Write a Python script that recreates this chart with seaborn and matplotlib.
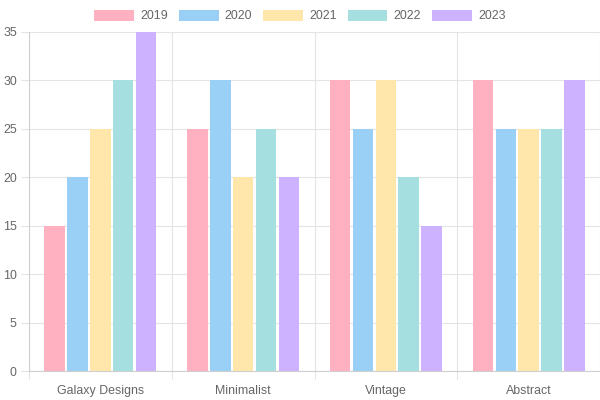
import matplotlib
matplotlib.use("Agg")
import matplotlib.pyplot as plt
import seaborn as sns
import pandas as pd
from matplotlib.patches import Patch

categories = ["Galaxy Designs", "Minimalist", "Vintage", "Abstract"]
years = ["2019", "2020", "2021", "2022", "2023"]
v2019 = [15, 25, 30, 30]
v2020 = [20, 30, 25, 25]
v2021 = [25, 20, 30, 25]
v2022 = [30, 25, 20, 25]
v2023 = [35, 20, 15, 30]
series = [v2019, v2020, v2021, v2022, v2023]
colors = ["#ffb1c1", "#9ad0f5", "#ffe6aa", "#a5dfdf", "#ccb2ff"]

rows = []
for y, vals in zip(years, series):
    for c, v in zip(categories, vals):
        rows.append({"category": c, "year": y, "value": v})
df = pd.DataFrame(rows)

sns.set_theme(style="white")
plt.rcParams['font.family'] = ['Liberation Sans', 'DejaVu Sans']

fs = 8.9
fig = plt.figure(figsize=(6, 4), dpi=100)
ax = fig.add_axes([29/600, 29/400, 571/600, 339/400])

sns.barplot(data=df, x="category", y="value", hue="year", order=categories,
            hue_order=years, palette=colors, width=0.8, gap=0.1,
            saturation=1, linewidth=0, ax=ax, legend=False)

grid_c = "#e4e4e4"
ax.set_xlim(-0.5, 3.5)
ax.set_ylim(0, 35)
ax.set_yticks(range(0, 36, 5))
ax.set_xlabel("")
ax.set_ylabel("")
ax.set_xticks([0, 1, 2, 3])
ax.set_xticklabels(categories)
ax.set_xticks([-0.5, 0.5, 1.5, 2.5, 3.5], minor=True)
ax.tick_params(axis="x", which="major", length=0, pad=10, labelsize=fs, labelcolor="#666666")
ax.tick_params(axis="x", which="minor", length=5.8, width=0.8, color=grid_c, bottom=True)
ax.tick_params(axis="y", length=5.8, width=0.8, color=grid_c, pad=3, labelsize=fs,
               labelcolor="#666666", left=True)
ax.grid(True, axis="y", color=grid_c, linewidth=0.8)
ax.grid(True, axis="x", which="minor", color=grid_c, linewidth=0.8)
ax.grid(False, axis="x", which="major")
ax.set_axisbelow(True)
for s in ["top", "right"]:
    ax.spines[s].set_visible(False)
for s in ["left", "bottom"]:
    ax.spines[s].set_color("#cfcfcf")
    ax.spines[s].set_linewidth(0.8)

handles = [Patch(facecolor=c, edgecolor="none", label=y) for c, y in zip(colors, years)]
fig.legend(handles=handles, loc="center", bbox_to_anchor=(0.5, 1 - 16/400), ncol=5,
           frameon=False, fontsize=fs, handlelength=3.2, handleheight=1.0,
           handletextpad=0.5, columnspacing=0.9, labelcolor="#666666")

fig.savefig("out.png", dpi=100)
